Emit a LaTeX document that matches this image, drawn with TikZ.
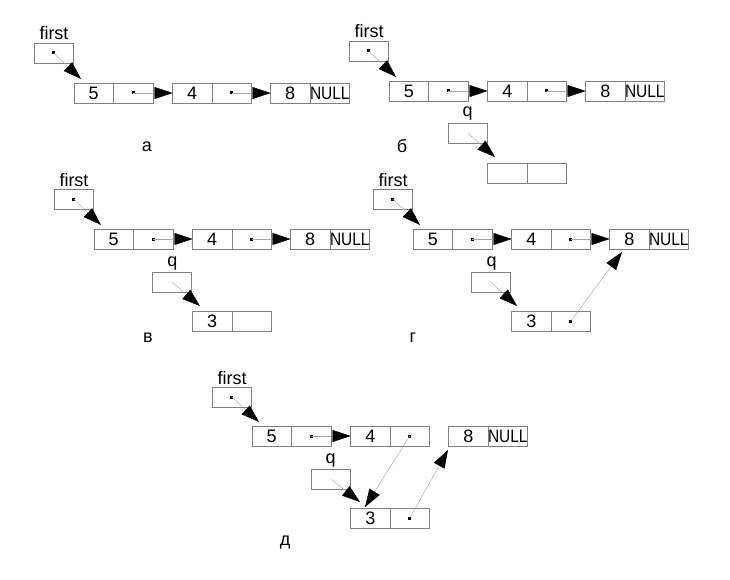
\documentclass[tikz,border=0pt]{standalone}
\usepackage{fontspec}
\usepackage{graphicx}
\setmainfont{Liberation Sans}
\usetikzlibrary{arrows.meta}
\newcommand{\nullword}{\scalebox{0.86}[1]{NULL}}
\tikzset{
  cell/.style={draw=black!50, line width=0.6pt, minimum width=39.5pt, minimum height=20pt,
    inner sep=0pt, outer sep=0pt, anchor=north west, font=\fontsize{18}{20}\selectfont},
  ptrdot/.style={fill=black, minimum size=3pt, inner sep=0pt, outer sep=0pt},
  link/.style={draw=black!35, line width=0.45pt,
    -{Triangle[length=18pt,width=12pt,color=black,fill=black]}},
  lbl/.style={font=\fontsize{18}{20}\selectfont, inner sep=0pt, anchor=base}
}
\begin{document}
\begin{tikzpicture}[x=1pt,y=-1pt]
\useasboundingbox (0,0) rectangle (730,580);

% ---------- panel a ----------
\begin{scope}[shift={(34,43)}]
\node[lbl] (aft) at (20,-3) {first};
\node[cell] (af) at (0,0) {};
\node[ptrdot] (afd) at (af.center) {};
\node[cell] (a5) at (40,40) {5};
\node[cell] (a5p) at (79.5,40) {};
\node[ptrdot] (a5d) at (a5p.center) {};
\node[cell] (a4) at (138.5,40) {4};
\node[cell] (a4p) at (178,40) {};
\node[ptrdot] (a4d) at (a4p.center) {};
\node[cell] (a8) at (236.5,40) {8};
\node[cell] (a8n) at (276,40) {\nullword};
\coordinate (afa) at (47,36);
\draw[link] (afd.center) -- (afa);
\draw[link] (a5d.center) -- (a4.west);
\draw[link] (a4d.center) -- (a8.west);
\end{scope}
\node[lbl] (alab) at (147,152) {а};

% ---------- panel b ----------
\begin{scope}[shift={(349,41)}]
\node[lbl] (bft) at (20,-3) {first};
\node[cell] (bf) at (0,0) {};
\node[ptrdot] (bfd) at (bf.center) {};
\node[cell] (b5) at (40,40) {5};
\node[cell] (b5p) at (79.5,40) {};
\node[ptrdot] (b5d) at (b5p.center) {};
\node[cell] (b4) at (138.5,40) {4};
\node[cell] (b4p) at (178,40) {};
\node[ptrdot] (b4d) at (b4p.center) {};
\node[cell] (b8) at (236.5,40) {8};
\node[cell] (b8n) at (276,40) {\nullword};
\node[lbl] (bqt) at (118.5,76) {q};
\node[cell] (bq) at (99,82) {};
\node[cell] (b3) at (138.5,122) {};
\node[cell] (b3p) at (178,122) {};
\coordinate (bfa) at (47,36);
\coordinate (bqa) at (146,116);
\draw[link] (bfd.center) -- (bfa);
\draw[link] (b5d.center) -- (b4.west);
\draw[link] (b4d.center) -- (b8.west);
\draw[link] (bq.center) -- (bqa);
\end{scope}
\node[lbl] (blab) at (402,153) {б};

% ---------- panel v ----------
\begin{scope}[shift={(54,189)}]
\node[lbl] (vft) at (20,-3) {first};
\node[cell] (vf) at (0,0) {};
\node[ptrdot] (vfd) at (vf.center) {};
\node[cell] (v5) at (40,40) {5};
\node[cell] (v5p) at (79.5,40) {};
\node[ptrdot] (v5d) at (v5p.center) {};
\node[cell] (v4) at (138.5,40) {4};
\node[cell] (v4p) at (178,40) {};
\node[ptrdot] (v4d) at (v4p.center) {};
\node[cell] (v8) at (236.5,40) {8};
\node[cell] (v8n) at (276,40) {\nullword};
\node[lbl] (vqt) at (118.5,77) {q};
\node[cell] (vq) at (98,83) {};
\node[cell] (v3) at (138.5,122) {3};
\node[cell] (v3p) at (178,122) {};
\coordinate (vfa) at (47,36);
\coordinate (vqa) at (146,117);
\draw[link] (vfd.center) -- (vfa);
\draw[link] (v5d.center) -- (v4.west);
\draw[link] (v4d.center) -- (v8.west);
\draw[link] (vq.center) -- (vqa);
\end{scope}
\node[lbl] (vlab) at (148,342) {в};

% ---------- panel g ----------
\begin{scope}[shift={(373,189)}]
\node[lbl] (gft) at (20,-3) {first};
\node[cell] (gf) at (0,0) {};
\node[ptrdot] (gfd) at (gf.center) {};
\node[cell] (g5) at (40,40) {5};
\node[cell] (g5p) at (79.5,40) {};
\node[ptrdot] (g5d) at (g5p.center) {};
\node[cell] (g4) at (138.5,40) {4};
\node[cell] (g4p) at (178,40) {};
\node[ptrdot] (g4d) at (g4p.center) {};
\node[cell] (g8) at (236.5,40) {8};
\node[cell] (g8n) at (276,40) {\nullword};
\node[lbl] (gqt) at (118.5,77) {q};
\node[cell] (gq) at (98,83) {};
\node[cell] (g3) at (138.5,122) {3};
\node[cell] (g3p) at (178,122) {};
\node[ptrdot] (g3d) at (g3p.center) {};
\coordinate (gfa) at (47,36);
\coordinate (gqa) at (144,117);
\coordinate (g8a) at (249,63);
\draw[link] (gfd.center) -- (gfa);
\draw[link] (g5d.center) -- (g4.west);
\draw[link] (g4d.center) -- (g8.west);
\draw[link] (gq.center) -- (gqa);
\draw[link] (g3d.center) -- (g8a);
\end{scope}
\node[lbl] (glab) at (413,342) {г};

% ---------- panel d ----------
\begin{scope}[shift={(212,387)}]
\node[lbl] (dft) at (20,-3) {first};
\node[cell] (df) at (0,0) {};
\node[ptrdot] (dfd) at (df.center) {};
\node[cell] (d5) at (40,39) {5};
\node[cell] (d5p) at (79.5,39) {};
\node[ptrdot] (d5d) at (d5p.center) {};
\node[cell] (d4) at (138.5,39) {4};
\node[cell] (d4p) at (178,39) {};
\node[ptrdot] (d4d) at (d4p.center) {};
\node[cell] (d8) at (236.5,39) {8};
\node[cell] (d8n) at (276,39) {\nullword};
\node[lbl] (dqt) at (118.5,76) {q};
\node[cell] (dq) at (99,82) {};
\node[cell] (d3) at (138.5,121) {3};
\node[cell] (d3p) at (178,121) {};
\node[ptrdot] (d3d) at (d3p.center) {};
\coordinate (dfa) at (47,35);
\coordinate (dqa) at (148,115);
\coordinate (d3a) at (153,120);
\coordinate (d8a) at (236,63);
\draw[link] (dfd.center) -- (dfa);
\draw[link] (d5d.center) -- (d4.west);
\draw[link] (dq.center) -- (dqa);
\draw[link] (d4d.center) -- (d3a);
\draw[link] (d3d.center) -- (d8a);
\end{scope}
\node[lbl] (dlab) at (285,545) {д};
\end{tikzpicture}
\end{document}
